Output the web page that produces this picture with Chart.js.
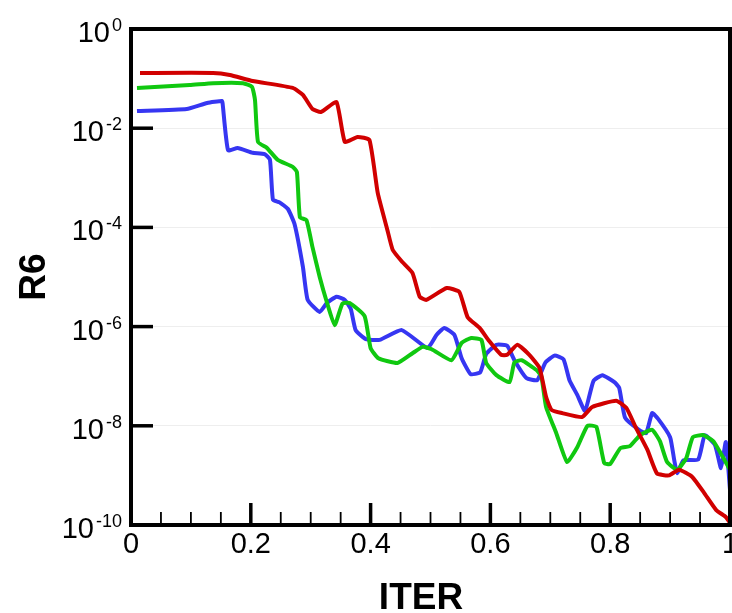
<!DOCTYPE html>
<html>
<head>
<meta charset="utf-8">
<script src="https://cdn.jsdelivr.net/npm/chart.js@4"></script>
<style>
html, body { margin: 0; padding: 0; background: #fff; }
</style>
</head>
<body>
<canvas id="residualChart" width="732" height="613"></canvas>
<script>
// residual history
const redX = [0.015, 0.137, 0.165, 0.203, 0.27, 0.287, 0.303, 0.317, 0.343, 0.357, 0.378, 0.398, 0.412, 0.428, 0.437, 0.453, 0.47, 0.482, 0.493, 0.527, 0.548, 0.562, 0.582, 0.598, 0.618, 0.628, 0.645, 0.665, 0.682, 0.693, 0.702, 0.72, 0.753, 0.77, 0.81, 0.827, 0.843, 0.862, 0.878, 0.898, 0.915, 0.937, 0.957, 0.977, 0.993, 1.0];
const redY = [0.13, 0.13, 0.118, 0.0895, 0.065, 0.047, 0.0244, 0.0212, 0.0337, 5.3e-3, 6.65e-3, 5.8e-3, 4.9e-4, 8.9e-5, 3.5e-5, 2.0e-5, 1.2e-5, 4.0e-6, 3.45e-6, 6.0e-6, 5.0e-6, 1.55e-6, 9.4e-7, 5.1e-7, 2.7e-7, 2.7e-7, 4.3e-7, 2.7e-7, 1.47e-7, 3.8e-8, 2.1e-8, 1.8e-8, 1.5e-8, 2.4e-8, 3.2e-8, 2.3e-8, 9.1e-9, 3.3e-9, 1.1e-9, 1.0e-9, 1.3e-9, 9.3e-10, 4.4e-10, 2.0e-10, 1.45e-10, 1.1e-10];

const greenX = [0.01, 0.098, 0.137, 0.187, 0.202, 0.207, 0.212, 0.227, 0.245, 0.27, 0.277, 0.282, 0.293, 0.303, 0.315, 0.327, 0.34, 0.353, 0.365, 0.39, 0.4, 0.413, 0.445, 0.47, 0.487, 0.502, 0.535, 0.552, 0.568, 0.585, 0.593, 0.61, 0.632, 0.64, 0.652, 0.677, 0.685, 0.693, 0.71, 0.728, 0.745, 0.762, 0.777, 0.79, 0.8, 0.817, 0.833, 0.85, 0.87, 0.883, 0.895, 0.912, 0.927, 0.938, 0.955, 0.972, 0.983, 1.0];
const greenY = [0.065, 0.074, 0.081, 0.081, 0.068, 0.037, 5.3e-3, 4.0e-3, 2.3e-3, 1.66e-3, 1.3e-3, 1.6e-4, 1.4e-4, 4.0e-5, 1.0e-5, 3.1e-6, 1.07e-6, 2.9e-6, 3.0e-6, 1.63e-6, 3.7e-7, 2.3e-7, 1.85e-7, 2.9e-7, 3.9e-7, 3.5e-7, 2.1e-7, 4.7e-7, 5.9e-7, 5.4e-7, 1.85e-7, 1.05e-7, 7.6e-8, 1.9e-7, 2.1e-7, 1.33e-7, 1.0e-7, 2.4e-8, 7.1e-9, 1.86e-9, 3.7e-9, 1.0e-8, 9.5e-9, 1.78e-9, 1.7e-9, 3.55e-9, 3.9e-9, 6.5e-9, 8.3e-9, 4.9e-9, 1.86e-9, 1.3e-9, 2.24e-9, 5.9e-9, 6.5e-9, 4.9e-9, 3.0e-9, 1.3e-9];

const blueX = [0.01, 0.093, 0.127, 0.152, 0.153, 0.162, 0.178, 0.203, 0.223, 0.232, 0.237, 0.248, 0.262, 0.273, 0.287, 0.295, 0.315, 0.327, 0.343, 0.357, 0.367, 0.375, 0.392, 0.415, 0.452, 0.495, 0.51, 0.523, 0.54, 0.552, 0.567, 0.583, 0.593, 0.61, 0.628, 0.64, 0.66, 0.678, 0.692, 0.707, 0.722, 0.732, 0.745, 0.758, 0.772, 0.787, 0.807, 0.815, 0.825, 0.848, 0.86, 0.87, 0.88, 0.9, 0.907, 0.912, 0.922, 0.947, 0.958, 0.975, 0.985, 0.993, 1.0];
const blueY = [0.0222, 0.0244, 0.0323, 0.0353, 0.031, 3.6e-3, 4.0e-3, 3.2e-3, 3.0e-3, 2.3e-3, 3.6e-4, 3.2e-4, 2.35e-4, 1.17e-4, 1.6e-5, 3.45e-6, 1.97e-6, 3.0e-6, 4.0e-6, 3.45e-6, 2.25e-6, 8.5e-7, 5.6e-7, 5.4e-7, 8.5e-7, 3.7e-7, 6.8e-7, 9.4e-7, 6.8e-7, 2.3e-7, 1.1e-7, 1.2e-7, 2.8e-7, 4.3e-7, 4.1e-7, 2.1e-7, 9.2e-8, 8.3e-8, 1.9e-7, 2.6e-7, 2.2e-7, 8.3e-8, 4.2e-8, 2.0e-8, 8.0e-8, 1.05e-7, 7.6e-8, 5.8e-8, 1.44e-8, 8.3e-9, 7.1e-9, 1.8e-8, 1.38e-8, 5.9e-9, 2.0e-9, 1.1e-9, 2.0e-9, 2.1e-9, 6.5e-9, 4.1e-9, 1.4e-9, 4.7e-9, 5.1e-10];

const xTickValues = [0, 0.2, 0.4, 0.6, 0.8, 1];
const xTickLabels = ["0", "0.2", "0.4", "0.6", "0.8", "1"];
const yDecades = [0, -1, -2, -3, -4, -5, -6, -7, -8, -9, -10];
const yLabelDecades = [0, -2, -4, -6, -8, -10];

const toPoints = (xs, ys) => xs.map((x, i) => ({ x: x, y: ys[i] }));

const makeSet = (label, xs, ys, color) => ({
    label: label,
    data: toPoints(xs, ys),
    borderColor: color,
    borderWidth: 4,
    pointRadius: 0,
    tension: 0.15,
    fill: false,
});

const line = (ctx, x1, y1, x2, y2) => {
    ctx.beginPath();
    ctx.moveTo(x1, y1);
    ctx.lineTo(x2, y2);
    ctx.stroke();
};

// tecplot-like frame, inward ticks and superscript labels
const framePlugin = {
    id: "frame",
    afterDatasetsDraw(chart) {
        const { ctx, chartArea: a, scales } = chart;
        const x = scales.x, y = scales.y;
        ctx.save();
        ctx.strokeStyle = "#000";
        ctx.fillStyle = "#000";
        ctx.lineCap = "butt";

        ctx.lineWidth = 1.8;
        for (let i = 1; i < 20; i++) {
            if (i % 4 === 0) continue;
            const px = x.getPixelForValue(i * 0.05);
            line(ctx, px, a.bottom, px, a.bottom - 13);
        }
        ctx.lineWidth = 3.5;
        xTickValues.forEach(v => {
            const px = x.getPixelForValue(v);
            line(ctx, px, a.bottom, px, a.bottom - 22);
        });
        yLabelDecades.forEach(k => {
            const py = y.getPixelForValue(Math.pow(10, k));
            line(ctx, a.left, py, a.left + 22, py);
        });

        ctx.lineWidth = 4;
        ctx.strokeRect(a.left, a.top, a.right - a.left, a.bottom - a.top);

        // x labels
        ctx.font = "29px 'Liberation Sans', Arial, sans-serif";
        ctx.textAlign = "center";
        ctx.textBaseline = "alphabetic";
        xTickValues.forEach((v, i) => {
            ctx.fillText(xTickLabels[i], x.getPixelForValue(v), a.bottom + 28);
        });

        // y labels: 10 with exponent
        yLabelDecades.forEach(k => {
            const py = y.getPixelForValue(Math.pow(10, k));
            const exp = String(k);
            ctx.font = "18px 'Liberation Sans', Arial, sans-serif";
            ctx.textAlign = "right";
            ctx.fillText(exp, 122, py + 2);
            const ew = ctx.measureText(exp).width;
            ctx.font = "29px 'Liberation Sans', Arial, sans-serif";
            ctx.fillText("10", 122 - ew - 2, py + 13);
        });

        // axis titles
        ctx.font = "bold 37px 'Liberation Sans', Arial, sans-serif";
        ctx.textAlign = "center";
        ctx.fillText("ITER", 421, 609);
        ctx.save();
        ctx.translate(45, (a.top + a.bottom) / 2);
        ctx.rotate(-Math.PI / 2);
        ctx.fillText("R6", 0, 0);
        ctx.restore();

        ctx.restore();
    },
};

const chart = new Chart(document.getElementById("residualChart"), {
    type: "line",
    data: {
        datasets: [
            makeSet("red", redX, redY, "#d10000"),
            makeSet("green", greenX, greenY, "#10c810"),
            makeSet("blue", blueX, blueY, "#3636f2"),
        ],
    },
    options: {
        responsive: false,
        animation: false,
        devicePixelRatio: 1,
        layout: { padding: { top: 29, right: 2, left: 0, bottom: 0 } },
        plugins: { legend: { display: false }, tooltip: { enabled: false } },
        scales: {
            x: {
                type: "linear",
                min: 0,
                max: 1,
                ticks: { display: false },
                grid: { display: false },
                border: { display: false },
                afterFit: (scale) => { scale.height = 88; },
            },
            y: {
                type: "logarithmic",
                min: 1e-10,
                max: 1,
                ticks: { display: false },
                afterBuildTicks: (scale) => {
                    scale.ticks = yDecades.map(k => ({ value: Math.pow(10, k) }));
                },
                grid: {
                    drawTicks: false,
                    lineWidth: 1,
                    color: (c) => {
                        const k = Math.round(Math.log10(c.tick.value));
                        return (k % 2 === 0) ? "#eeeeee" : "rgba(0,0,0,0)";
                    },
                },
                border: { display: false },
                afterFit: (scale) => { scale.width = 131; },
            },
        },
    },
    plugins: [framePlugin],
});
</script>
</body>
</html>
